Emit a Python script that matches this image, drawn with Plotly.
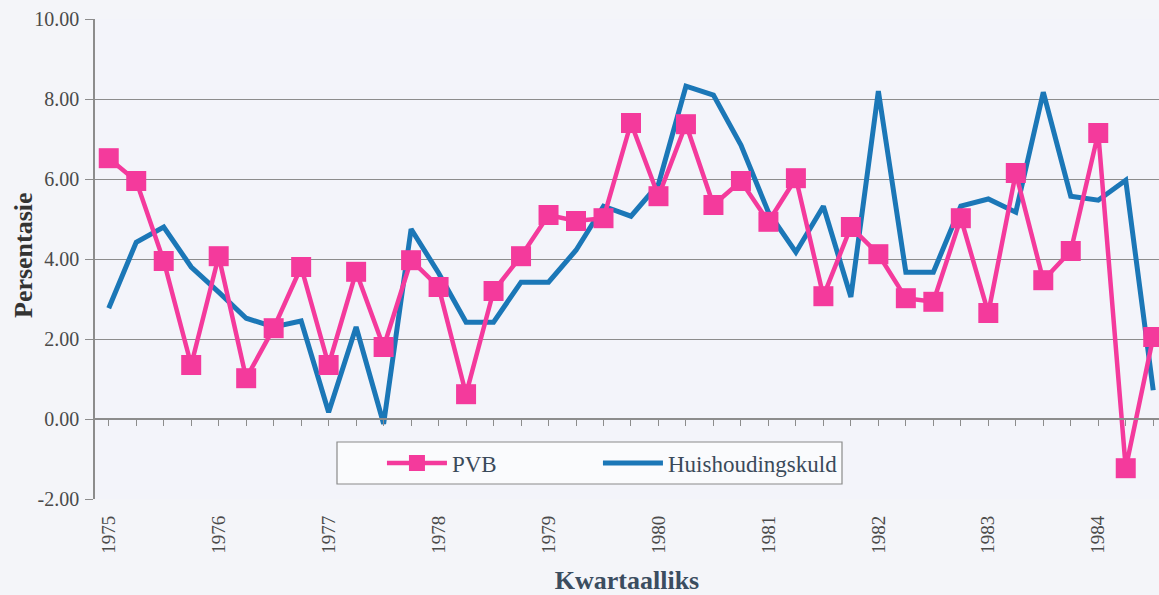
import plotly.graph_objects as go

# ---- data (quarterly, 1975 K1 .. 1984 K3) ----
years = list(range(1975, 1985))
quarters = [f"{y} K{q}" for y in years for q in range(1, 5)][:39]
pvb = [6.52, 5.95, 3.95, 1.35, 4.07, 1.02, 2.27, 3.80, 1.35, 3.68,
       1.80, 3.97, 3.30, 0.62, 3.20, 4.07, 5.10, 4.95, 5.02, 7.40,
       5.57, 7.37, 5.35, 5.95, 4.93, 6.02, 3.07, 4.80, 4.12, 3.02,
       2.93, 5.02, 2.65, 6.15, 3.47, 4.20, 7.15, -1.23, 2.05]
huis = [2.77, 4.42, 4.80, 3.80, 3.17, 2.52, 2.30, 2.45, 0.17, 2.30,
        -0.12, 4.75, 3.65, 2.42, 2.42, 3.42, 3.42, 4.22, 5.32, 5.07,
        5.87, 8.32, 8.10, 6.85, 5.17, 4.17, 5.32, 3.05, 8.20, 3.67,
        3.67, 5.32, 5.50, 5.17, 8.17, 5.57, 5.47, 5.97, 0.72]
year_ticks = [quarters[i] for i in range(0, len(quarters), 4)]
year_labels = [str(y) for y in years]
y_ticks = [-2, 0, 2, 4, 6, 8, 10]
y_labels = ["-2.00", "0.00", "2.00", "4.00", "6.00", "8.00", "10.00"]

PINK = "#f43a9c"
BLUE = "#1b77b7"
GRID = "#8c8c8c"
SERIF = "Liberation Serif"

fig = go.Figure()
fig.add_trace(go.Scatter(
    x=quarters, y=huis, name="Huishoudingskuld", mode="lines",
    line=dict(color=BLUE, width=5), legend="legend2"))
fig.add_trace(go.Scatter(
    x=quarters, y=pvb, name="PVB", mode="lines+markers", xaxis="x2",
    line=dict(color=PINK, width=4.5),
    marker=dict(symbol="square", size=20, color=PINK), legend="legend"))

leg_common = dict(orientation="h", y=0.075, xanchor="left", yanchor="middle",
                  bgcolor="rgba(0,0,0,0)", borderwidth=0, itemwidth=60,
                  font=dict(size=23, color="#3a4a5a", family=SERIF))

xr = [-0.5, 38.21]
fig.update_layout(
    width=1159, height=595,
    margin=dict(l=95, r=0, t=19, b=96),
    paper_bgcolor="#f4f5f9", plot_bgcolor="#f3f4fa",
    font=dict(family=SERIF, color="#4a4a4a"),
    showlegend=True,
    legend=dict(x=0.2697, **leg_common),
    legend2=dict(x=0.4727, **leg_common),
    xaxis=dict(type="category", categoryorder="array", categoryarray=quarters,
               range=xr, showgrid=False, zeroline=False, showline=False,
               ticks="", tickmode="array", tickvals=year_ticks, ticktext=year_labels,
               tickangle=-90, ticklabelstandoff=12,
               tickfont=dict(size=19, color="#4a4a4a", family=SERIF),
               title=dict(text="<b>Kwartaalliks</b>", standoff=18,
                          font=dict(size=26, color="#3b4d60", family=SERIF))),
    xaxis2=dict(type="category", categoryorder="array", categoryarray=quarters,
                range=xr, overlaying="x", anchor="free", position=2 / 12,
                showgrid=False, zeroline=False, showline=True, linecolor=GRID,
                linewidth=1.5, ticks="outside", ticklen=6, tickcolor=GRID,
                tickmode="linear", tick0=0.5, dtick=1, showticklabels=False),
    yaxis=dict(range=[-2, 10], tickmode="array", tickvals=y_ticks, ticktext=y_labels,
               showgrid=True, gridcolor=GRID, gridwidth=1.3, zeroline=False,
               showline=True, linecolor=GRID, linewidth=1.5,
               ticks="outside", ticklen=8, tickcolor=GRID, ticklabelstandoff=2,
               tickfont=dict(size=20, color="#4a4a4a", family=SERIF)),
    annotations=[dict(text="<b>Persentasie</b>", xref="paper", yref="paper",
                      x=(23 - 95) / 1064, y=(499 - 255) / 480, textangle=-90,
                      showarrow=False, xanchor="center", yanchor="middle",
                      font=dict(size=26, color="#333333", family=SERIF))],
    shapes=[dict(type="rect", xref="paper", yref="paper",
                 x0=(337 - 95) / 1064, x1=(842 - 95) / 1064,
                 y0=(499 - 484) / 480, y1=(499 - 442) / 480,
                 line=dict(color="#8a8a8a", width=1.2), fillcolor="#fafbfd",
                 layer="below")],
)

fig.write_html("out.html",
               config={"displayModeBar": False},
               post_script="document.body.style.margin='0';"
                           "document.body.style.padding='0';"
                           "document.body.style.overflow='hidden';")
